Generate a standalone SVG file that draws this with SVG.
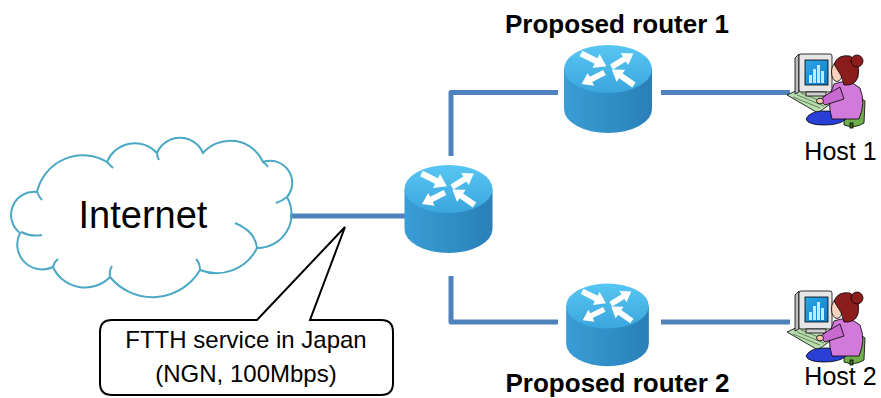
<svg xmlns="http://www.w3.org/2000/svg" xmlns:xlink="http://www.w3.org/1999/xlink" width="881" height="398" viewBox="0 0 881 398">
  <style>
    .link { fill: none; stroke: #4f81bd; stroke-width: 5; stroke-linejoin: round; }
    .lbl { font-family: "Liberation Sans", Arial, sans-serif; fill: #000; }
    .bold { font-weight: bold; font-size: 26px; }
    .host { font-size: 25px; }
    .note { font-size: 24px; }
    .cloud-line { fill: none; stroke: #4aa8c4; stroke-width: 2; }
    .ink { stroke: #000; stroke-width: 0.8; }
  </style>
  <defs>
    <linearGradient id="cloudFill" x1="0" y1="0" x2="0" y2="1">
      <stop offset="0" stop-color="#e3f8fe"/>
      <stop offset="1" stop-color="#a5e3f7"/>
    </linearGradient>
    <linearGradient id="routerTop" x1="0" y1="0" x2="0" y2="1">
      <stop offset="0" stop-color="#58c6f3"/>
      <stop offset="1" stop-color="#3aa6de"/>
    </linearGradient>
    <linearGradient id="routerSide" x1="0" y1="0" x2="1" y2="0">
      <stop offset="0" stop-color="#3a9dd5"/>
      <stop offset="0.6" stop-color="#2f8cc4"/>
      <stop offset="1" stop-color="#2a7fb7"/>
    </linearGradient>
    <linearGradient id="screen" x1="0" y1="0" x2="1" y2="1">
      <stop offset="0" stop-color="#2aa8e6"/>
      <stop offset="1" stop-color="#1479c2"/>
    </linearGradient>
    <polygon id="arrow" points="0,-3 16,-3 16,-7.5 27,0 16,7.5 16,3 0,3" fill="#ffffff"/>
    <!-- router: cylinder with four-arrow top, origin at the centre of the top face -->
    <g id="router">
      <path d="M-44,0 L-44,40 A44,24 0 0 0 44,40 L44,0 Z" fill="url(#routerSide)"/>
      <ellipse cx="0" cy="0" rx="44" ry="24" fill="url(#routerTop)"/>
      <use xlink:href="#arrow" transform="translate(3.5,-2) rotate(-31.7) scale(0.95)"/>
      <use xlink:href="#arrow" transform="translate(-27,-15.5) rotate(26.6) scale(1.05)"/>
      <use xlink:href="#arrow" transform="translate(-3.5,3.5) rotate(153.2) scale(0.95)"/>
      <use xlink:href="#arrow" transform="translate(26,16) rotate(214.9)"/>
    </g>
    <!-- workstation: woman at a computer -->
    <g id="pc">
      <!-- desk / keyboard -->
      <polygon points="7,56 24,48 54,62 38,74" fill="#b9dcae" class="ink"/>
      <polyline points="13,58 40,69" fill="none" stroke="#4d6b45" stroke-width="0.8"/>
      <polyline points="17,56 44,67" fill="none" stroke="#4d6b45" stroke-width="0.8"/>
      <polyline points="21,54 48,65" fill="none" stroke="#4d6b45" stroke-width="0.8"/>
      <!-- monitor -->
      <polygon points="15,19 19,15 19,53 15,55" fill="#bdbdbd" class="ink"/>
      <rect x="19" y="15" width="33" height="38" rx="2" fill="#e6e6e6" class="ink"/>
      <rect x="25" y="21" width="23" height="25" fill="url(#screen)" class="ink"/>
      <rect x="29" y="36" width="3" height="8" fill="#bfeaff"/>
      <rect x="33" y="30" width="3" height="14" fill="#bfeaff"/>
      <rect x="37" y="26" width="3" height="18" fill="#bfeaff"/>
      <rect x="41" y="32" width="3" height="12" fill="#bfeaff"/>
      <rect x="26" y="53" width="20" height="4" fill="#cfcfcf" class="ink"/>
      <!-- chair -->
      <path d="M64,62 Q76,54 85,62 L84,84 Q75,90 64,86 Z" fill="#6fae4a" class="ink"/>
      <rect x="70" y="84" width="3" height="5" fill="#3f6e2a" class="ink"/>
      <!-- skirt / lap -->
      <path d="M26,80 Q30,71 48,72 Q64,73 66,80 Q60,86 44,86 Q28,86 26,80 Z" fill="#2a3fd6" class="ink"/>
      <!-- body -->
      <path d="M54,45 Q68,39 80,49 Q86,64 79,80 L52,80 Q46,62 54,45 Z" fill="#d27ad9" class="ink"/>
      <!-- arm -->
      <path d="M60,48 L46,56 L40,61 L45,66 L64,60 Z" fill="#c86ad0" class="ink"/>
      <ellipse cx="40" cy="62" rx="3.5" ry="2.8" fill="#f7c7ad" class="ink"/>
      <!-- head -->
      <ellipse cx="57" cy="33" rx="5.5" ry="9.5" fill="#f9d2bd" class="ink"/>
      <path d="M54,25 Q58,15 70,17 Q81,23 78,38 Q75,47 64,46 Q62,36 57,30 Z" fill="#8b1d1d" class="ink"/>
      <circle cx="77" cy="22" r="6" fill="#8b1d1d" class="ink"/>
    </g>
  </defs>

  <rect width="881" height="398" fill="#ffffff"/>

  <!-- links -->
  <g id="connectors">
    <line class="link" x1="290" y1="216" x2="410" y2="216"/>
    <polyline class="link" points="451,156 451,92.5 558,92.5"/>
    <polyline class="link" points="451,276 451,322 558,322"/>
    <line class="link" x1="661" y1="92.5" x2="790" y2="92.5"/>
    <line class="link" x1="661" y1="322" x2="790" y2="322"/>
  </g>

  <!-- Internet cloud -->
  <g id="internet">
    <path d="M20,233 A23,23 0 0 1 37,192 A47,47 0 0 1 107,162 A30,30 0 0 1 157,153 A25,25 0 0 1 203,153 A36,36 0 0 1 263,162 A22,22 0 0 1 287,197 A34,34 0 0 1 257,248 A45,45 0 0 1 200,270 A55,55 0 0 1 110,277 A35,35 0 0 1 53,267 A25,25 0 0 1 20,233 Z" fill="url(#cloudFill)" class="cloud-line"/>
    <path class="cloud-line" d="M21,232 Q31,237 42,235"/>
    <path class="cloud-line" d="M37,192 Q39,197 42,200"/>
    <path class="cloud-line" d="M107,162 Q110,165 113,168"/>
    <path class="cloud-line" d="M157,153 Q157,157 159,160"/>
    <path class="cloud-line" d="M263,162 Q266,164 268,167"/>
    <path class="cloud-line" d="M287,197 Q282,201 276,203"/>
    <path class="cloud-line" d="M257,248 Q255,231 235,223"/>
    <path class="cloud-line" d="M200,270 Q200,263 196,259"/>
    <path class="cloud-line" d="M110,277 Q109,271 112,266"/>
    <path class="cloud-line" d="M53,267 Q54,262 58,259"/>
    <text class="lbl" x="143" y="228" font-size="38" text-anchor="middle">Internet</text>
  </g>

  <!-- routers -->
  <g id="router-core">
    <use xlink:href="#router" transform="translate(448.5,189)"/>
  </g>
  <g id="router-1">
    <use xlink:href="#router" transform="translate(608,69)"/>
    <text class="lbl bold" x="617" y="33" text-anchor="middle">Proposed router 1</text>
  </g>
  <g id="router-2">
    <use xlink:href="#router" transform="translate(607.5,306) scale(0.94)"/>
    <text class="lbl bold" x="617.5" y="392" text-anchor="middle">Proposed router 2</text>
  </g>

  <!-- hosts -->
  <g id="host-1">
    <use xlink:href="#pc" transform="translate(780,39)"/>
    <text class="lbl host" x="840.5" y="160" text-anchor="middle">Host 1</text>
  </g>
  <g id="host-2">
    <use xlink:href="#pc" transform="translate(780,276)"/>
    <text class="lbl host" x="840.5" y="385" text-anchor="middle">Host 2</text>
  </g>

  <!-- callout for the access line -->
  <g id="callout">
    <path d="M112,320 L257,320 L345,227 L310,320 L381,320 Q393,320 393,332 L393,383 Q393,395 381,395 L112,395 Q100,395 100,383 L100,332 Q100,320 112,320 Z" fill="#ffffff" stroke="#000000" stroke-width="2" stroke-linejoin="miter"/>
    <text class="lbl note" x="246" y="348" text-anchor="middle">FTTH service in Japan</text>
    <text class="lbl note" x="246" y="382" text-anchor="middle">(NGN, 100Mbps)</text>
  </g>
</svg>
